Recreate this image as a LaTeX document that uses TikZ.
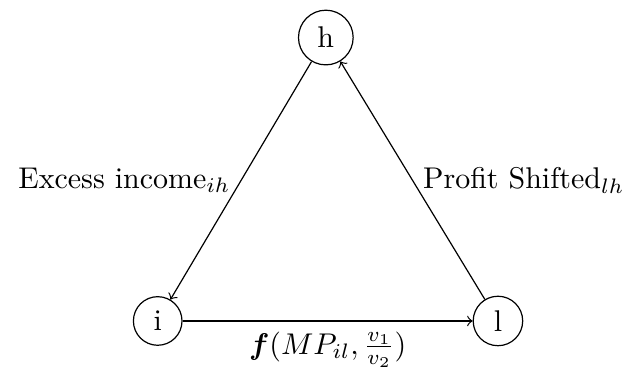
\documentclass[tikz,border=0pt]{standalone}
\usepackage{amsmath}
\usepackage{bm}
\tikzset{
	country/.style={circle, draw, line width=0.4pt},
	flow/.style={->, line width=0.4pt}
}
\begin{document}
\begin{tikzpicture}
		\useasboundingbox (0,0) rectangle (7.386,4.326);
		
		\node[country] (h) at (3.820,3.886) {h};
		\node[country] (i) at (1.849,0.563) {i};
		\node[country] (l) at (5.838,0.563) {l};
		
		\draw[flow] (h) -- (i) node[midway, left]{Excess income$_{ih}$};
		\draw[flow] (i) -- (l) node[midway, below]{$\boldsymbol{f}(MP_{il}, \frac{v_1}{v_2})$};
		\draw[flow] (l) -- (h) node[midway, right]{Profit Shifted$_{lh}$};
		
	\end{tikzpicture}
\end{document}
